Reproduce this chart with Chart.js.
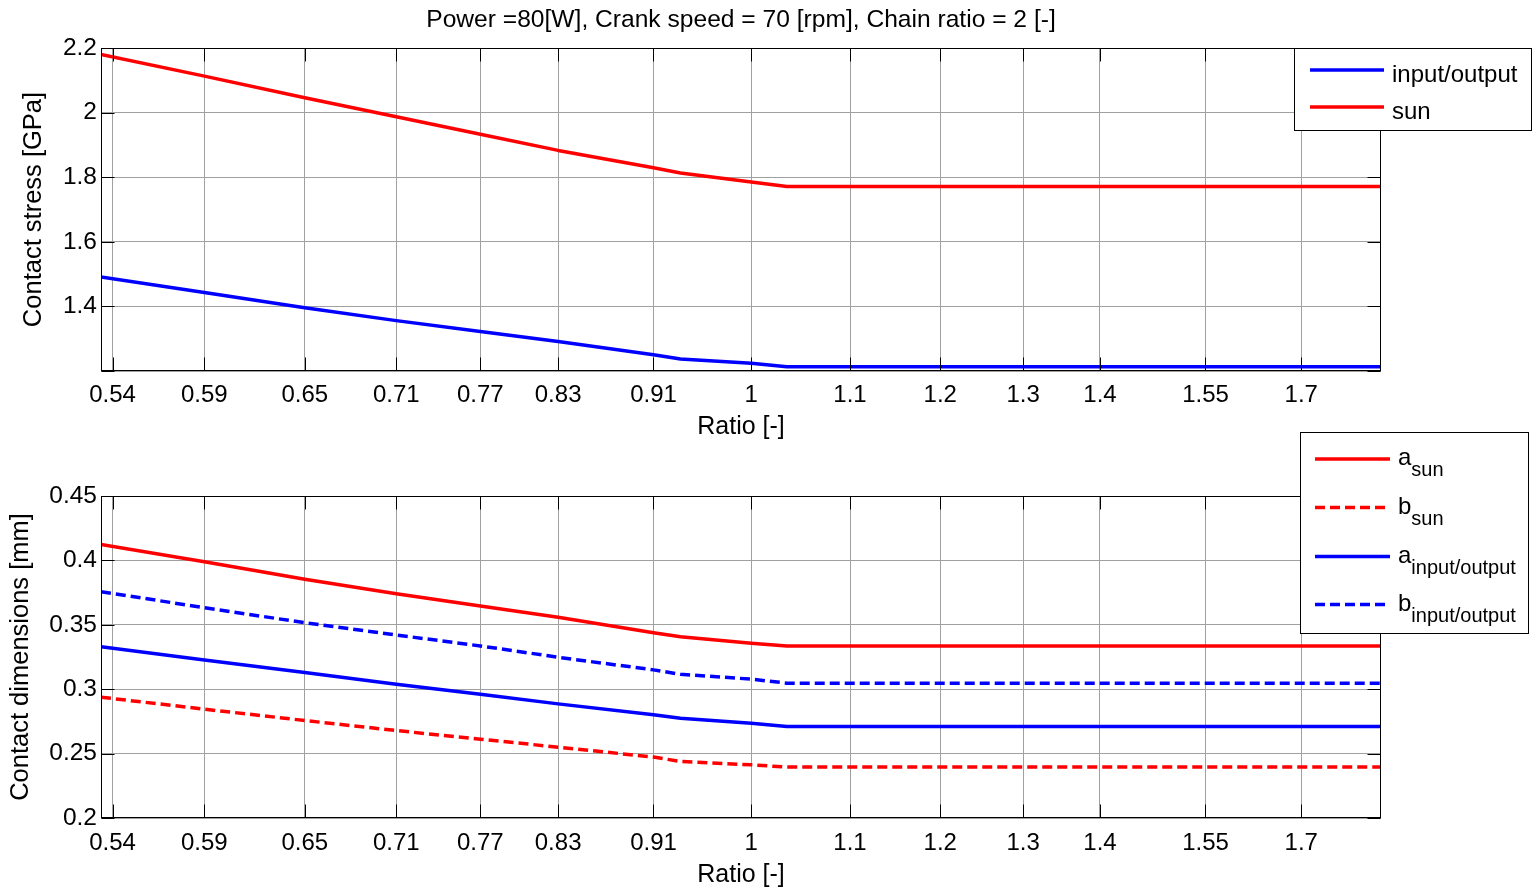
<!DOCTYPE html>
<html>
<head>
<meta charset="utf-8">
<title>Contact stress and contact dimensions vs. ratio</title>
<script src="https://cdn.jsdelivr.net/npm/chart.js@4.4.1/dist/chart.umd.min.js"></script>
<style>
  html, body { margin: 0; padding: 0; background: #ffffff; }
  #wrap { position: relative; width: 1537px; height: 888px; overflow: hidden; background: #ffffff; }
  #stressChart { position: absolute; left: 0; top: 0; z-index: 1; }
  #dimChart { position: absolute; left: 0; top: 420px; z-index: 2; }
</style>
</head>
<body>
<div id="wrap">
  <canvas id="stressChart" width="1537" height="444"></canvas>
  <canvas id="dimChart" width="1537" height="468"></canvas>
</div>
<script>
// ---- data -------------------------------------------------------------
// transmission ratio samples (x)
const ratio = [0.534, 0.59, 0.65, 0.71, 0.77, 0.83, 0.91, 0.934, 1.0, 1.035, 1.836];

// contact stress [GPa]
const stressSun = [2.180, 2.113, 2.046, 1.987, 1.933, 1.883, 1.829, 1.813, 1.785, 1.771, 1.771];
const stressIO  = [1.491, 1.443, 1.396, 1.356, 1.322, 1.291, 1.250, 1.237, 1.224, 1.213, 1.213];

// contact ellipse half-axes [mm]
const aSun = [0.4124, 0.3989, 0.3853, 0.3741, 0.3646, 0.3558, 0.3439, 0.3408, 0.3357, 0.3336, 0.3336];
const bSun = [0.2938, 0.2845, 0.2757, 0.2679, 0.2612, 0.2550, 0.2473, 0.2439, 0.2413, 0.2395, 0.2395];
const aIO  = [0.3330, 0.3227, 0.3129, 0.3039, 0.2961, 0.2886, 0.2801, 0.2775, 0.2736, 0.2710, 0.2710];
const bIO  = [0.3757, 0.3633, 0.3516, 0.3421, 0.3336, 0.3248, 0.3150, 0.3116, 0.3078, 0.3047, 0.3047];

// x axis ticks (log spaced gear ratios)
const xTickValues = [0.54, 0.59, 0.65, 0.71, 0.77, 0.83, 0.91, 1, 1.1, 1.2, 1.3, 1.4, 1.55, 1.7];
const xTickLabels = ['0.54', '0.59', '0.65', '0.71', '0.77', '0.83', '0.91', '1', '1.1', '1.2', '1.3', '1.4', '1.55', '1.7'];
const xRange = [0.534, 1.836];

const stressRange = [1.2, 2.2];
const stressStep = 0.2;
const dimRange = [0.2, 0.45];
const dimStep = 0.05;

const plotTitle = 'Power =80[W], Crank speed = 70 [rpm], Chain ratio = 2 [-]';

// ---- styling ------------------------------------------------------------
const FONT = '"Liberation Sans", Arial, Helvetica, sans-serif';
const RED = '#ff0000';
const BLUE = '#0000ff';
const GRID = '#a0a0a0';
const DASH = [10, 5];

Chart.defaults.font.family = FONT;
Chart.defaults.color = '#000000';

function pts(ys) {
  return ratio.map((x, i) => ({ x: x, y: ys[i] }));
}

function fmt(v) {
  return String(+v.toFixed(3));
}

// Axes box with inward tick marks plus a boxed legend drawn on top.
const matlabAxes = {
  id: 'matlabAxes',
  afterDraw(chart, args, opts) {
    const { ctx, chartArea: a, scales } = chart;
    const L = Math.round(a.left) + 0.5, R = Math.round(a.right) - 0.5;
    const T = Math.round(a.top) + 0.5, B = Math.round(a.bottom) - 0.5;
    ctx.save();
    ctx.strokeStyle = '#000000';
    ctx.lineWidth = 1;
    ctx.setLineDash([]);
    ctx.beginPath();
    const tl = opts.tickLength;
    scales.x.ticks.forEach(t => {
      const px = Math.round(scales.x.getPixelForValue(t.value)) + 0.5;
      ctx.moveTo(px, B); ctx.lineTo(px, B - tl);
      ctx.moveTo(px, T); ctx.lineTo(px, T + tl);
    });
    scales.y.ticks.forEach(t => {
      const py = Math.round(scales.y.getPixelForValue(t.value)) + 0.5;
      ctx.moveTo(L, py); ctx.lineTo(L + tl, py);
      ctx.moveTo(R, py); ctx.lineTo(R - tl, py);
    });
    ctx.stroke();
    ctx.strokeRect(L, T, R - L, B - T);

    // legend
    const lg = opts.legend;
    ctx.fillStyle = '#ffffff';
    ctx.fillRect(lg.x, lg.y, lg.w, lg.h);
    ctx.strokeStyle = '#000000';
    ctx.lineWidth = 1;
    ctx.strokeRect(lg.x + 0.5, lg.y + 0.5, lg.w, lg.h);
    chart.data.datasets.forEach((ds, i) => {
      const y = lg.rowY[i];
      ctx.save();
      ctx.strokeStyle = ds.borderColor;
      ctx.lineWidth = ds.borderWidth;
      ctx.setLineDash(ds.borderDash || []);
      ctx.beginPath();
      ctx.moveTo(lg.lineX0, y);
      ctx.lineTo(lg.lineX1, y);
      ctx.stroke();
      ctx.restore();
      ctx.fillStyle = '#000000';
      ctx.textAlign = 'left';
      ctx.textBaseline = 'alphabetic';
      ctx.font = lg.fontSize + 'px ' + FONT;
      const main = ds.legendMain;
      ctx.fillText(main, lg.textX, y + lg.baseDy);
      if (ds.legendSub) {
        const w = ctx.measureText(main).width;
        ctx.font = lg.subSize + 'px ' + FONT;
        ctx.fillText(ds.legendSub, lg.textX + w, y + lg.subDy);
      }
    });
    ctx.restore();
  }
};

function xScale(tickPad, titlePadBottom, axisHeight) {
  return {
    type: 'logarithmic',
    min: xRange[0],
    max: xRange[1],
    afterBuildTicks(scale) {
      scale.ticks = xTickValues.map(v => ({ value: v }));
    },
    afterFit(scale) { scale.height = axisHeight; },
    ticks: {
      autoSkip: false,
      maxRotation: 0,
      minRotation: 0,
      padding: tickPad,
      font: { size: 24, lineHeight: 1.2 },
      color: '#000000',
      callback: (v, i) => xTickLabels[i]
    },
    grid: { color: GRID, lineWidth: 1, drawTicks: false },
    border: { display: false },
    title: {
      display: true,
      text: 'Ratio [-]',
      font: { size: 25, lineHeight: 1 },
      color: '#000000',
      padding: { top: 0, bottom: titlePadBottom }
    }
  };
}

function yScale(range, step, titleText, titlePadTop, hideMin) {
  return {
    type: 'linear',
    min: range[0],
    max: range[1],
    afterFit(scale) { scale.width = 101; },
    ticks: {
      stepSize: step,
      padding: 4,
      font: { size: 24.5, lineHeight: 1.2 },
      color: '#000000',
      callback: v => (hideMin && Math.abs(v - range[0]) < 1e-9) ? '' : fmt(v)
    },
    grid: { color: GRID, lineWidth: 1, drawTicks: false },
    border: { display: false },
    title: {
      display: true,
      text: titleText,
      font: { size: 25.5, lineHeight: 1 },
      color: '#000000',
      padding: { top: titlePadTop, bottom: 0 }
    }
  };
}

function series(label, main, sub, ys, color, dashed) {
  return {
    label: label,
    legendMain: main,
    legendSub: sub,
    data: pts(ys),
    borderColor: color,
    backgroundColor: color,
    borderWidth: 3.5,
    borderDash: dashed ? DASH : [],
    borderJoinStyle: 'round',
    pointRadius: 0,
    pointHoverRadius: 0,
    tension: 0,
    fill: false,
    clip: 0
  };
}

// ---- upper panel: contact stress ------------------------------------------
new Chart(document.getElementById('stressChart'), {
  type: 'line',
  data: {
    datasets: [
      series('input/output', 'input/output', '', stressIO, BLUE, false),
      series('sun', 'sun', '', stressSun, RED, false)
    ]
  },
  options: {
    responsive: false,
    animation: false,
    events: [],
    layout: { padding: { left: 0, right: 156, top: 0, bottom: 0 } },
    scales: {
      x: xScale(10, 4, 73),
      y: yScale(stressRange, stressStep, 'Contact stress [GPa]', 21, true)
    },
    plugins: {
      legend: { display: false },
      tooltip: { enabled: false },
      title: {
        display: true,
        text: plotTitle,
        fullSize: false,
        color: '#000000',
        font: { size: 24.6, weight: 'normal', lineHeight: 1.2 },
        padding: { top: 5.8, bottom: 12.7 }
      },
      matlabAxes: {
        tickLength: 13,
        legend: {
          x: 1294, y: 48, w: 237, h: 82,
          lineX0: 1310, lineX1: 1384, textX: 1392,
          rowY: [70, 107], baseDy: 11.5, subDy: 0,
          fontSize: 24, subSize: 20
        }
      }
    }
  },
  plugins: [matlabAxes]
});

// ---- lower panel: contact dimensions --------------------------------------
new Chart(document.getElementById('dimChart'), {
  type: 'line',
  data: {
    datasets: [
      series('a sun', 'a', 'sun', aSun, RED, false),
      series('b sun', 'b', 'sun', bSun, RED, true),
      series('a input/output', 'a', 'input/output', aIO, BLUE, false),
      series('b input/output', 'b', 'input/output', bIO, BLUE, true)
    ]
  },
  options: {
    responsive: false,
    animation: false,
    events: [],
    layout: { padding: { left: 0, right: 156, top: 76, bottom: 0 } },
    scales: {
      x: xScale(11, 0.5, 70),
      y: yScale(dimRange, dimStep, 'Contact dimensions [mm]', 8.5, false)
    },
    plugins: {
      legend: { display: false },
      tooltip: { enabled: false },
      title: { display: false },
      matlabAxes: {
        tickLength: 13,
        legend: {
          x: 1300, y: 12, w: 228, h: 201,
          lineX0: 1315, lineX1: 1390, textX: 1398,
          rowY: [39, 87.5, 136.5, 184.5], baseDy: 6, subDy: 17,
          fontSize: 24, subSize: 20
        }
      }
    }
  },
  plugins: [matlabAxes]
});
</script>
</body>
</html>
